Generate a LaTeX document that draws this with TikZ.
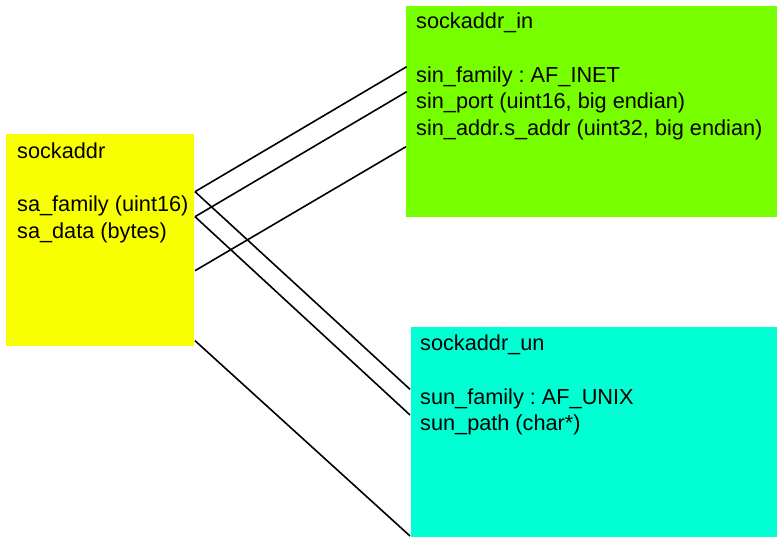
\documentclass[tikz,border=0pt]{standalone}
\usepackage{fontspec}
\setmainfont{Liberation Sans}
\usetikzlibrary{calc}
\definecolor{baseyellow}{RGB}{248,255,0}
\definecolor{inetgreen}{RGB}{119,255,0}
\definecolor{unixcyan}{RGB}{0,255,210}
\frenchspacing
\begin{document}
\begin{tikzpicture}[x=1pt,y=-1pt,
  structbox/.style={draw=none, inner sep=0pt, outer sep=0pt, anchor=north west},
  fields/.style={anchor=base west, inner sep=0pt, align=left,
                 font=\fontsize{21.7}{26.7}\selectfont},
  link/.style={line width=1.6pt, black}]
\useasboundingbox (0,0) rectangle (778,537);

% the three structures
\node[structbox, fill=baseyellow, minimum width=188pt, minimum height=212pt] (sa) at (6,134) {};
\node[structbox, fill=inetgreen, minimum width=371pt, minimum height=211pt] (in) at (406,6) {};
\node[structbox, fill=unixcyan, minimum width=366pt, minimum height=210pt] (un) at (411,327) {};

% their members (each node is placed by the baseline of its last line)
\node[fields] (satext) at (17,238.3)
  {sockaddr\\\mbox{}\\sa\_family (uint16)\\sa\_data (bytes)};
\node[fields] (intext) at (416,135.7)
  {sockaddr\_in\\\mbox{}\\sin\_family : AF\_INET\\sin\_port (uint16, big endian)\\sin\_addr.s\_addr (uint32, big endian)};
\node[fields] (untext) at (420,430.7)
  {sockaddr\_un\\\mbox{}\\sun\_family : AF\_UNIX\\sun\_path (char*)};

% sockaddr overlaid on sockaddr_in
\draw[link] ($(sa.north east)+(1,57.7)$) -- ($(in.north west)+(0.7,60.7)$);
\draw[link] ($(sa.north east)+(1,82.7)$) -- ($(in.north west)+(0.7,85.7)$);
\draw[link] ($(sa.north east)+(1,136.7)$) -- ($(in.north west)+(0,140.7)$);

% sockaddr overlaid on sockaddr_un
\draw[link] ($(sa.north east)+(1,57.7)$) -- ($(un.north west)+(-1,62.3)$);
\draw[link] ($(sa.north east)+(1,82.7)$) -- ($(un.north west)+(-1,88)$);
\draw[link] ($(sa.north east)+(1,206.7)$) -- ($(un.north west)+(-1,209)$);
\end{tikzpicture}
\end{document}
